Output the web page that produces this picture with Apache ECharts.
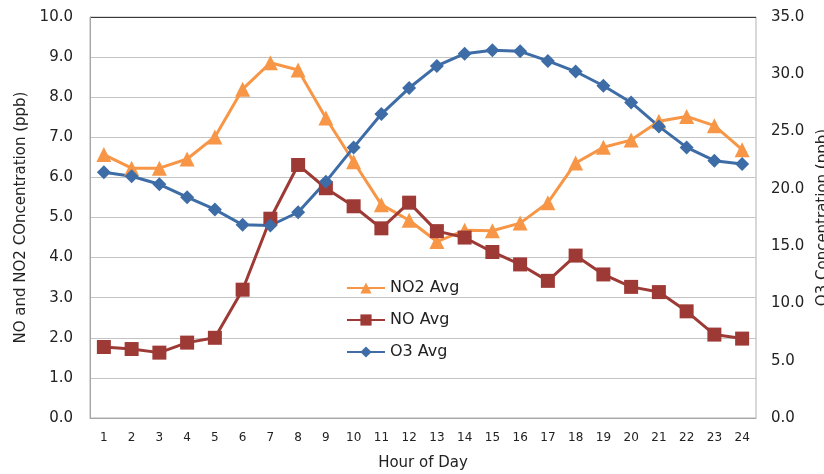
<!DOCTYPE html>
<html>
<head>
<meta charset="utf-8">
<script src="https://cdn.jsdelivr.net/npm/echarts@6/dist/echarts.min.js"></script>
<style>
  html, body { margin: 0; padding: 0; background: #fff; }
  #chart { width: 824px; height: 474px; }
</style>
</head>
<body>
<div id="chart"></div>
<script>
// Hourly averages of nitrogen oxides (left axis) and ozone (right axis)
const hours = ['1','2','3','4','5','6','7','8','9','10','11','12','13','14','15','16','17','18','19','20','21','22','23','24'];
const no2Avg = [6.57, 6.23, 6.23, 6.46, 7.01, 8.20, 8.86, 8.68, 7.48, 6.39, 5.32, 4.93, 4.40, 4.68, 4.67, 4.86, 5.37, 6.36, 6.75, 6.93, 7.40, 7.52, 7.29, 6.69];
const noAvg  = [1.77, 1.72, 1.63, 1.88, 2.00, 3.20, 4.97, 6.31, 5.73, 5.28, 4.73, 5.37, 4.66, 4.50, 4.14, 3.83, 3.42, 4.05, 3.58, 3.27, 3.14, 2.66, 2.08, 1.98];
const o3Avg  = [21.44, 21.10, 20.40, 19.27, 18.20, 16.86, 16.80, 17.96, 20.63, 23.62, 26.53, 28.80, 30.73, 31.80, 32.10, 32.00, 31.17, 30.24, 29.00, 27.54, 25.45, 23.62, 22.46, 22.17];

const FONT = 'DejaVu Sans';
const chart = echarts.init(document.getElementById('chart'), null, { renderer: 'canvas' });

const gridColors = ['#c4c4c4','#c4c4c4','#c4c4c4','#c4c4c4','#c4c4c4','#c4c4c4','#c4c4c4','#c4c4c4','#c4c4c4','#c4c4c4','#3a3a3a'];

chart.setOption({
  animation: false,
  textStyle: { fontFamily: FONT },
  grid: {
    left: 90, right: 68, top: 17, bottom: 56,
    outerBoundsMode: 'none',
    containLabel: false,
    show: true, borderColor: '#b0b0b0', borderWidth: 1
  },
  legend: {
    orient: 'vertical',
    left: 341, top: 275,
    itemWidth: 38, itemHeight: 14, itemGap: 16,
    textStyle: { fontFamily: FONT, fontSize: 16, color: '#222' },
    data: ['NO2 Avg', 'NO Avg', 'O3 Avg']
  },
  xAxis: {
    type: 'category',
    data: hours,
    name: 'Hour of Day',
    nameLocation: 'middle',
    nameGap: 38,
    nameTextStyle: { fontFamily: FONT, fontSize: 15, color: '#222' },
    axisLine: { lineStyle: { color: '#a6a6a6' } },
    axisTick: { show: false },
    axisLabel: { fontFamily: FONT, fontSize: 12, color: '#222', margin: 14 }
  },
  yAxis: [
    {
      type: 'value', min: 0, max: 10, interval: 1,
      name: 'NO and NO2 COncentration (ppb)',
      nameLocation: 'middle', nameRotate: 90, nameGap: 60,
      nameTextStyle: { fontFamily: FONT, fontSize: 15, color: '#222' },
      axisLine: { show: true, lineStyle: { color: '#a6a6a6' } },
      axisTick: { show: false },
      axisLabel: { fontFamily: FONT, fontSize: 15, color: '#222', margin: 17,
        formatter: v => v.toFixed(1) },
      splitLine: { show: true, lineStyle: { color: gridColors, width: 1 } }
    },
    {
      type: 'value', min: 0, max: 35, interval: 5,
      name: 'O3 Concentration (ppb)',
      nameLocation: 'middle', nameRotate: 90, nameGap: 55,
      nameTextStyle: { fontFamily: FONT, fontSize: 15, color: '#222' },
      axisLine: { show: false },
      axisTick: { show: false },
      axisLabel: { fontFamily: FONT, fontSize: 15, color: '#222', margin: 15,
        formatter: v => v.toFixed(1) },
      splitLine: { show: false }
    }
  ],
  series: [
    {
      name: 'NO2 Avg', type: 'line', yAxisIndex: 0, data: no2Avg,
      symbol: 'triangle', symbolSize: 15,
      lineStyle: { width: 3, color: '#f79646' },
      itemStyle: { color: '#f79646' }
    },
    {
      name: 'NO Avg', type: 'line', yAxisIndex: 0, data: noAvg,
      symbol: 'rect', symbolSize: 14,
      lineStyle: { width: 3, color: '#9e3a36' },
      itemStyle: { color: '#9e3a36' }
    },
    {
      name: 'O3 Avg', type: 'line', yAxisIndex: 1, data: o3Avg,
      symbol: 'diamond', symbolSize: 14,
      lineStyle: { width: 3, color: '#3d6ca6' },
      itemStyle: { color: '#3d6ca6' }
    }
  ]
});
</script>
</body>
</html>
